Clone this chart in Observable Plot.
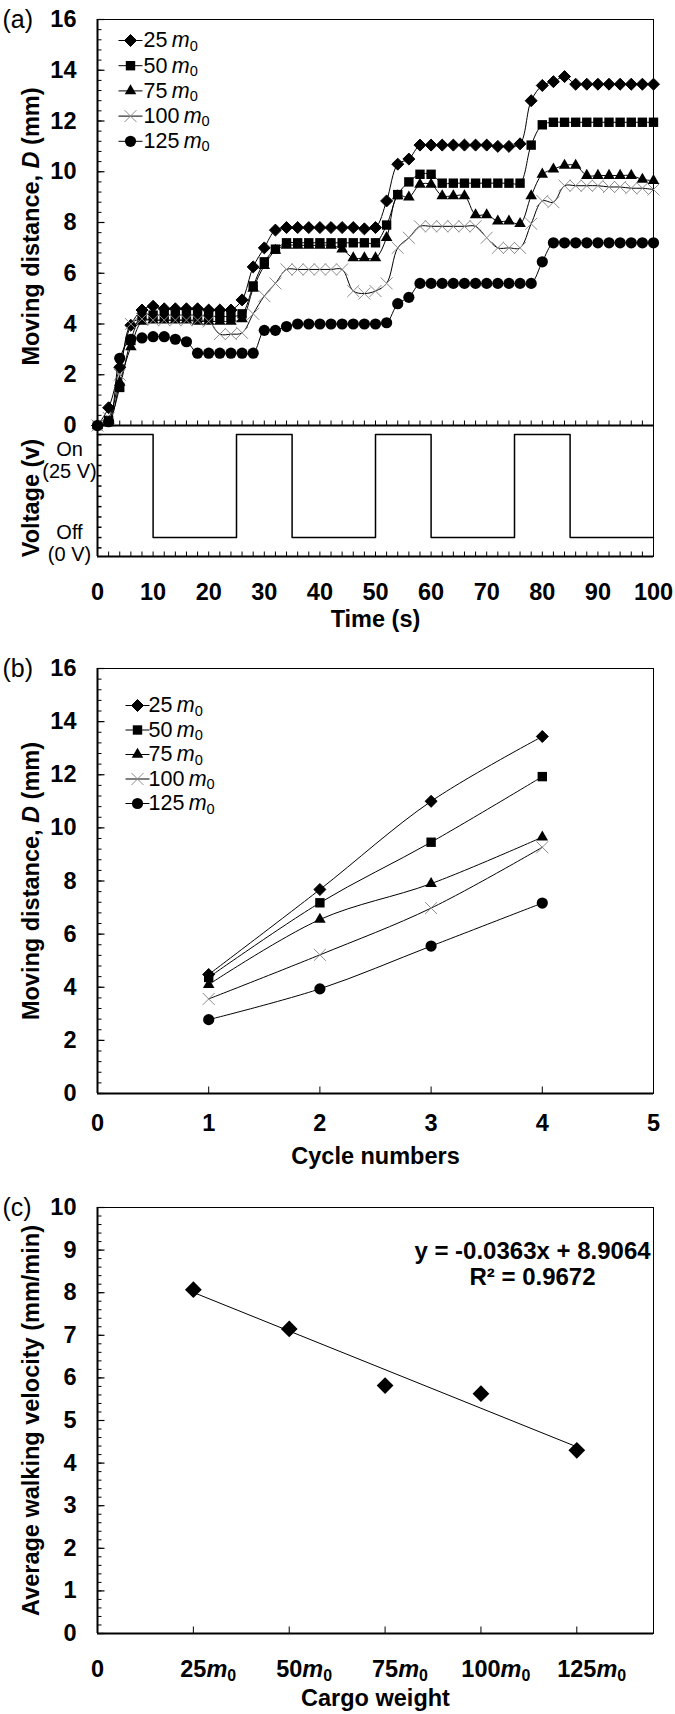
<!DOCTYPE html>
<html>
<head>
<meta charset="utf-8">
<script src="https://cdn.jsdelivr.net/npm/d3@7"></script>
<script src="https://cdn.jsdelivr.net/npm/@observablehq/plot@0.6"></script>
<style>
  html, body { margin: 0; padding: 0; background: #fff; }
  #wrap { position: relative; width: 675px; height: 1714px; background: #fff; overflow: hidden; }
</style>
</head>
<body>
<div id="wrap"></div>
<script>
// ---------------- DATA ----------------
// Panel (a): moving distance vs time
const time = [0,2,4,6,8,10,12,14,16,18,20,22,24,26,28,30,32,34,36,38,40,42,44,46,48,50,52,54,56,58,60,62,64,66,68,70,72,74,76,78,80,82,84,86,88,90,92,94,96,98,100];
const d25  = [0,0.7,2.3,3.95,4.55,4.7,4.6,4.6,4.6,4.6,4.55,4.55,4.55,4.95,6.25,7.0,7.7,7.8,7.8,7.8,7.8,7.8,7.8,7.8,7.75,7.8,8.85,10.3,10.5,11.05,11.05,11.05,11.05,11.05,11.05,11.05,11.0,11.0,11.1,12.8,13.4,13.55,13.75,13.45,13.45,13.45,13.45,13.45,13.45,13.45,13.45];
const d50  = [0,0.2,1.5,3.35,4.35,4.35,4.35,4.35,4.35,4.35,4.3,4.3,4.3,4.4,5.5,6.45,6.95,7.2,7.2,7.2,7.2,7.2,7.2,7.2,7.2,7.2,7.9,9.1,9.6,9.9,9.9,9.55,9.55,9.55,9.55,9.55,9.55,9.55,9.55,11.05,11.85,11.95,11.95,11.95,11.95,11.95,11.95,11.95,11.95,11.95,11.95];
const d75  = [0,0.1,1.7,3.1,4.1,4.15,4.15,4.15,4.15,4.1,4.1,4.1,4.1,4.2,5.4,6.3,6.9,7.1,7.1,7.1,7.1,7.1,6.95,6.6,6.6,6.6,7.4,9.05,9.0,9.5,9.5,9.05,9.05,9.05,8.3,8.3,8.05,8.05,7.95,9.05,9.9,10.1,10.25,10.25,9.85,9.85,9.85,9.85,9.85,9.7,9.65];
const d100 = [0,0.3,2.0,4.0,4.2,4.15,4.15,4.15,4.15,4.15,4.1,3.6,3.6,3.65,4.4,5.1,5.6,6.15,6.15,6.15,6.15,6.15,6.15,5.3,5.2,5.3,5.6,7.0,7.4,7.85,7.85,7.85,7.85,7.85,7.85,7.4,7.0,7.0,7.0,7.95,8.85,8.8,9.45,9.45,9.45,9.45,9.4,9.4,9.35,9.35,9.3];
const d125 = [0,0.15,2.65,3.4,3.45,3.5,3.5,3.4,3.3,2.85,2.85,2.85,2.85,2.85,2.85,3.75,3.75,3.9,4.0,4.0,4.0,4.0,4.0,4.0,4.0,4.0,4.05,4.8,5.05,5.6,5.6,5.6,5.6,5.6,5.6,5.6,5.6,5.6,5.6,5.6,6.45,7.2,7.2,7.2,7.2,7.2,7.2,7.2,7.2,7.2,7.2];
const seriesNames = ["25 m0","50 m0","75 m0","100 m0","125 m0"];

// Voltage on/off schedule
const voltTime  = [0,10,25,35,50,60,75,85,100];
const voltLevel = [25,0,25,0,25,0,25,0,0];
const voltLabels = ["On\n(25 V)", "Off\n(0 V)"];
const voltLabelLevels = [25, 0];

// Panel (b): distance vs cycle number
const cycles = [1,2,3,4];
const cyc25  = [4.48,7.68,11.0,13.44];
const cyc50  = [4.37,7.18,9.46,11.93];
const cyc75  = [4.1,6.55,7.9,9.65];
const cyc100 = [3.56,5.22,6.98,9.27];
const cyc125 = [2.78,3.94,5.55,7.17];

// Panel (c): velocity vs cargo weight
const weights  = [25,50,75,100,125];
const velocity = [8.07,7.15,5.82,5.63,4.3];
const eqText = "y = -0.0363x + 8.9064\nR\u00b2 = 0.9672";

// Tick labels
const timeTicks  = [0,10,20,30,40,50,60,70,80,90,100];
const distTicks  = [0,2,4,6,8,10,12,14,16];
const cycleTicks = [0,1,2,3,4,5];
const velTicks   = [0,1,2,3,4,5,6,7,8,9,10];
const weightTicks = [0,25,50,75,100,125];

// ---------------- STYLE ----------------
const W = 675;
const FONT = "'Liberation Sans', Arial, Helvetica, sans-serif";
const baseStyle = {fontFamily: FONT, fontSize: "23.5px", fontWeight: "bold", background: "transparent", color: "black", overflow: "visible"};

const seriesStyle = [
  {symbol: "diamond2", r: 5.4, fill: "black", stroke: "black"},
  {symbol: "square",   r: 5.3, fill: "black", stroke: "none"},
  {symbol: "triangle", r: 4.3, fill: "black", stroke: "none"},
  {symbol: "times",    r: 5.5, fill: "none",  stroke: "#8c8c8c"},
  {symbol: "circle",   r: 5.6, fill: "black", stroke: "none"}
];

const htick = len => ({draw(ctx) { ctx.moveTo(0, 0); ctx.lineTo(len, 0); }});
const vtick = len => ({draw(ctx) { ctx.moveTo(0, 0); ctx.lineTo(0, -len); }});
const legendLine = {draw(ctx) { ctx.moveTo(-12, 0); ctx.lineTo(12, 0); }};
const intFmt = d => String(d);

function frameMarks(xDomain, yDomain) {
  return [
    Plot.frame({stroke: "black", strokeWidth: 1}),
    Plot.ruleX([xDomain[0]], {stroke: "black", strokeWidth: 2}),
    Plot.ruleY([yDomain[0]], {stroke: "black", strokeWidth: 2})
  ];
}
function yTickMarks(minor, major, minorLen, majorLen) {
  return [
    Plot.dot(minor, {y: d => d, frameAnchor: "left", symbol: htick(minorLen), fill: "none", stroke: "black", strokeWidth: 1}),
    Plot.dot(major, {y: d => d, frameAnchor: "left", symbol: htick(majorLen), fill: "none", stroke: "black", strokeWidth: 1.2})
  ];
}
function xTickMarks(vals, len) {
  return Plot.dot(vals, {x: d => d, frameAnchor: "bottom", symbol: vtick(len), fill: "none", stroke: "black", strokeWidth: 1});
}
function seriesMarks(rows, st, curve, rScale = 1) {
  return [
    Plot.line(rows, {x: "x", y: "y", curve, stroke: "black", strokeWidth: 1}),
    Plot.dot(rows, {x: "x", y: "y", symbol: st.symbol, r: st.r * rScale, fill: st.fill, stroke: st.stroke, strokeWidth: 1})
  ];
}
function legendMarks(names, dx, dy0, step, textDx) {
  return names.flatMap((name, i) => [
    Plot.dot([name], {frameAnchor: "top-left", dx, dy: dy0 + step * i, symbol: legendLine, fill: "none", stroke: "black", strokeWidth: 1}),
    Plot.dot([name], {frameAnchor: "top-left", dx, dy: dy0 + step * i, symbol: seriesStyle[i].symbol, r: seriesStyle[i].r, fill: seriesStyle[i].fill, stroke: seriesStyle[i].stroke, strokeWidth: 1}),
    Plot.text([name], {frameAnchor: "top-left", dx: textDx, dy: dy0 + step * i, text: d => d, textAnchor: "start", lineAnchor: "middle", fontWeight: "normal", fontSize: 21.5})
  ]);
}
function panelLabel(s) {
  return Plot.text([s], {frameAnchor: "top-left", dx: -95, dy: 0, text: d => d, textAnchor: "start", lineAnchor: "middle", fontWeight: "normal", fontSize: 25});
}
function yTitle(s, dy = 0) {
  return Plot.text([s], {frameAnchor: "left", dx: -66, dy, text: d => d, rotate: -90, textAnchor: "middle", lineAnchor: "middle"});
}
function xTitle(s, dy) {
  return Plot.text([s], {frameAnchor: "bottom", dy, text: d => d, textAnchor: "middle", lineAnchor: "middle"});
}

// rich text: italic m with subscript 0, italic D
function richText(svg) {
  d3.select(svg).selectAll("text").each(function () {
    if (this.querySelector("tspan")) return;
    const s = this.textContent;
    const m = /^(\d+)(\s?)m0$/.exec(s);
    if (m) {
      const sel = d3.select(this).text(null);
      sel.append("tspan").attr("class", "num").text(m[1]);
      sel.append("tspan").attr("font-style", "italic").text((m[2] ? "\u2009" : "") + "m");
      sel.append("tspan").attr("font-size", "0.68em").attr("dy", "0.22em").text("0");
      return;
    }
    const i = s.indexOf(", D (");
    if (i >= 0) {
      const sel = d3.select(this).text(null);
      sel.append("tspan").text(s.slice(0, i + 2));
      sel.append("tspan").attr("font-style", "italic").text("D");
      sel.append("tspan").text(s.slice(i + 3));
    }
  });
}

const wrap = document.getElementById("wrap");
function place(svg, top) {
  svg.style.position = "absolute";
  svg.style.left = "0px";
  svg.style.top = top + "px";
  wrap.appendChild(svg);
  richText(svg);
  return svg;
}

// ---------------- PANEL (a) top ----------------
const seriesA = [d25, d50, d75, d100, d125];
const rowsA = seriesA.map(arr => time.map((t, i) => ({x: t, y: arr[i]})));
const xA = [0, 100], yA = [0, 16];
const A1 = Plot.plot({
  width: W, height: 426, marginLeft: 97, marginRight: 22, marginTop: 19, marginBottom: 1,
  style: baseStyle,
  x: {domain: xA, axis: null},
  y: {domain: yA},
  marks: [
    Plot.axisY({ticks: distTicks, tickSize: 0, tickPadding: 21, label: null, tickFormat: intFmt}),
    ...frameMarks(xA, yA),
    ...yTickMarks(d3.range(0, 16.01, 0.4), distTicks, 4, 7),
    xTickMarks(d3.range(2, 100, 2), 5),
    ...rowsA.flatMap((rows, k) => seriesMarks(rows, seriesStyle[k], "catmull-rom")),
    ...legendMarks(seriesNames, 33, 21, 25.2, 46),
    panelLabel("(a)"),
    yTitle("Moving distance, D (mm)", 4)
  ]
});
place(A1, 0);

// ---------------- PANEL (a) voltage ----------------
const voltRows = voltTime.map((t, i) => ({x: t, y: voltLevel[i]}));
const yV = [-4.6, 27.2];
const A2 = Plot.plot({
  width: W, height: 221, marginLeft: 97, marginRight: 22, marginTop: 0, marginBottom: 90,
  style: baseStyle,
  x: {domain: xA},
  y: {domain: yV, axis: null},
  marks: [
    ...frameMarks(xA, yV),
    Plot.dot(d3.range(-2.5, 27, 2.5), {y: d => d, frameAnchor: "left", symbol: htick(4), fill: "none", stroke: "black"}),
    xTickMarks(d3.range(2, 100, 2), 5),
    Plot.line(voltRows, {x: "x", y: "y", curve: "step-after", stroke: "black", strokeWidth: 1.5}),
    Plot.axisX({ticks: timeTicks, tickSize: 0, tickPadding: 27, label: null, tickFormat: intFmt}),
    Plot.text([0], {y: i => voltLabelLevels[i], text: i => voltLabels[i], frameAnchor: "left", dx: -28, dy: 25, textAnchor: "middle", lineAnchor: "middle", lineHeight: 1.1, fontWeight: "normal", fontSize: 20}),
    Plot.text([1], {y: i => voltLabelLevels[i], text: i => voltLabels[i], frameAnchor: "left", dx: -28, dy: 5, textAnchor: "middle", lineAnchor: "middle", lineHeight: 1.1, fontWeight: "normal", fontSize: 20}),
    yTitle("Voltage (v)", 7),
    xTitle("Time (s)", 63)
  ]
});
place(A2, 425);

// ---------------- PANEL (b) ----------------
const seriesB = [cyc25, cyc50, cyc75, cyc100, cyc125];
const rowsB = seriesB.map(arr => cycles.map((c, i) => ({x: c, y: arr[i]})));
const xB = [0, 5], yB = [0, 16];
const B = Plot.plot({
  width: W, height: 533, marginLeft: 97, marginRight: 22, marginTop: 28, marginBottom: 80,
  style: baseStyle,
  x: {domain: xB},
  y: {domain: yB},
  marks: [
    Plot.axisY({ticks: distTicks, tickSize: 0, tickPadding: 21, label: null, tickFormat: intFmt}),
    Plot.axisX({ticks: cycleTicks, tickSize: 0, tickPadding: 21, label: null, tickFormat: intFmt}),
    ...frameMarks(xB, yB),
    ...yTickMarks(d3.range(0, 16.01, 0.4), distTicks, 4, 7),
    xTickMarks([1, 2, 3, 4], 7),
    ...rowsB.flatMap((rows, k) => seriesMarks(rows, seriesStyle[k], "catmull-rom")),
    ...legendMarks(seriesNames, 40, 37, 24.5, 51),
    panelLabel("(b)"),
    yTitle("Moving distance, D (mm)"),
    xTitle("Cycle numbers", 63)
  ]
});
place(B, 640);

// ---------------- PANEL (c) ----------------
const rowsC = weights.map((w, i) => ({x: w, y: velocity[i]}));
const xC = [0, 145], yC = [0, 10];
const C = Plot.plot({
  width: W, height: 533, marginLeft: 97, marginRight: 22, marginTop: 27, marginBottom: 80,
  style: baseStyle,
  x: {domain: xC},
  y: {domain: yC},
  marks: [
    Plot.axisY({ticks: velTicks, tickSize: 0, tickPadding: 21, label: null, tickFormat: intFmt}),
    Plot.axisX({ticks: weightTicks, tickSize: 0, tickPadding: 27, label: null, tickFormat: d => d === 0 ? "0" : d + "m0"}),
    ...frameMarks(xC, yC),
    ...yTickMarks(d3.range(0, 10.01, 0.2), velTicks, 4, 7),
    xTickMarks(weights, 7),
    Plot.linearRegressionY(rowsC, {x: "x", y: "y", ci: 0, stroke: "black", strokeWidth: 1}),
    Plot.dot(rowsC, {x: "x", y: "y", symbol: "diamond2", r: 6.6, fill: "black", stroke: "black"}),
    Plot.text([eqText], {frameAnchor: "top-right", dx: -121, dy: 56, text: d => d, textAnchor: "middle", lineAnchor: "middle", lineHeight: 1.1, fontSize: 24}),
    panelLabel("(c)"),
    yTitle("Average walking velocity (mm/min)"),
    xTitle("Cargo weight", 65)
  ]
});
place(C, 1180);
// center the numeral of each "Nm0" label on its tick
d3.select(C).selectAll("text").each(function () {
  const num = this.querySelector("tspan.num");
  if (!num) return;
  const w = num.getComputedTextLength();
  const x0 = +this.getAttribute("x") || 0;
  this.setAttribute("text-anchor", "start");
  this.setAttribute("x", x0 - w / 2);
});
</script>
</body>
</html>
